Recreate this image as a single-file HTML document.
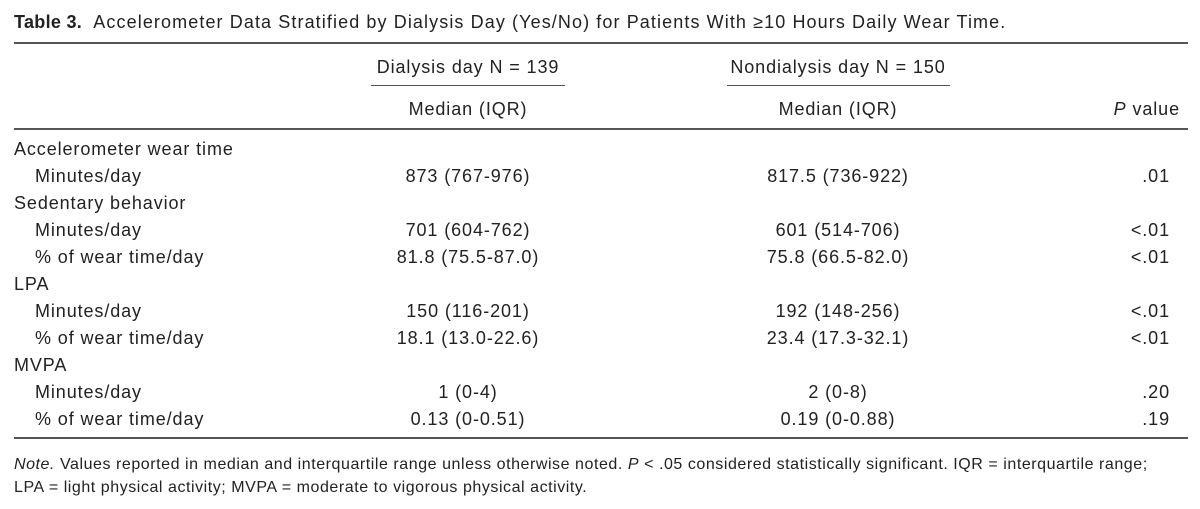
<!DOCTYPE html>
<html><head><meta charset="utf-8"><style>
body{margin:0;width:1200px;height:509px;background:#fff;position:relative;font-family:"Liberation Sans",sans-serif;color:#222;overflow:hidden}
.t{position:absolute;font-size:18px;line-height:20px;white-space:nowrap;letter-spacing:0.9px}
.c{transform:translateX(-50%)}
.r{transform:translateX(-100%)}
.hr{position:absolute;height:2px;background:#555}
</style></head><body>
<div class="t" style="left:14px;top:12px;font-size:18px;letter-spacing:1.1px"><b style="letter-spacing:0.3px">Table 3.</b>&nbsp; Accelerometer Data Stratified by Dialysis Day (Yes/No) for Patients With ≥10 Hours Daily Wear Time.</div>
<div class="hr" style="left:14px;width:1174px;top:42px"></div>
<div class="t c" style="left:468px;top:57px">Dialysis day N = 139</div>
<div class="t c" style="left:838px;top:57px">Nondialysis day N = 150</div>
<div class="hr" style="left:371px;width:194px;top:85px;height:1px"></div>
<div class="hr" style="left:727px;width:223px;top:85px;height:1px"></div>
<div class="t c" style="left:468px;top:99px">Median (IQR)</div>
<div class="t c" style="left:838px;top:99px">Median (IQR)</div>
<div class="t r" style="left:1180px;top:99px"><i>P</i> value</div>
<div class="hr" style="left:14px;width:1174px;top:128px"></div>

<div class="t" style="left:14px;top:139px">Accelerometer wear time</div>
<div class="t" style="left:35px;top:166px">Minutes/day</div>
<div class="t c" style="left:468px;top:166px">873 (767-976)</div>
<div class="t c" style="left:838px;top:166px">817.5 (736-922)</div>
<div class="t r" style="left:1170px;top:166px">.01</div>

<div class="t" style="left:14px;top:193px">Sedentary behavior</div>
<div class="t" style="left:35px;top:220px">Minutes/day</div>
<div class="t c" style="left:468px;top:220px">701 (604-762)</div>
<div class="t c" style="left:838px;top:220px">601 (514-706)</div>
<div class="t r" style="left:1170px;top:220px">&lt;.01</div>
<div class="t" style="left:35px;top:247px">% of wear time/day</div>
<div class="t c" style="left:468px;top:247px">81.8 (75.5-87.0)</div>
<div class="t c" style="left:838px;top:247px">75.8 (66.5-82.0)</div>
<div class="t r" style="left:1170px;top:247px">&lt;.01</div>

<div class="t" style="left:14px;top:274px">LPA</div>
<div class="t" style="left:35px;top:301px">Minutes/day</div>
<div class="t c" style="left:468px;top:301px">150 (116-201)</div>
<div class="t c" style="left:838px;top:301px">192 (148-256)</div>
<div class="t r" style="left:1170px;top:301px">&lt;.01</div>
<div class="t" style="left:35px;top:328px">% of wear time/day</div>
<div class="t c" style="left:468px;top:328px">18.1 (13.0-22.6)</div>
<div class="t c" style="left:838px;top:328px">23.4 (17.3-32.1)</div>
<div class="t r" style="left:1170px;top:328px">&lt;.01</div>

<div class="t" style="left:14px;top:355px">MVPA</div>
<div class="t" style="left:35px;top:382px">Minutes/day</div>
<div class="t c" style="left:468px;top:382px">1 (0-4)</div>
<div class="t c" style="left:838px;top:382px">2 (0-8)</div>
<div class="t r" style="left:1170px;top:382px">.20</div>
<div class="t" style="left:35px;top:409px">% of wear time/day</div>
<div class="t c" style="left:468px;top:409px">0.13 (0-0.51)</div>
<div class="t c" style="left:838px;top:409px">0.19 (0-0.88)</div>
<div class="t r" style="left:1170px;top:409px">.19</div>

<div class="hr" style="left:14px;width:1174px;top:437px"></div>
<div class="t" style="left:14px;top:455px;font-size:16px;letter-spacing:0.55px"><i>Note.</i> Values reported in median and interquartile range unless otherwise noted. <i>P</i> &lt; .05 considered statistically significant. IQR = interquartile range;</div>
<div class="t" style="left:14px;top:478px;font-size:16px;letter-spacing:0.55px">LPA = light physical activity; MVPA = moderate to vigorous physical activity.</div>
</body></html>
